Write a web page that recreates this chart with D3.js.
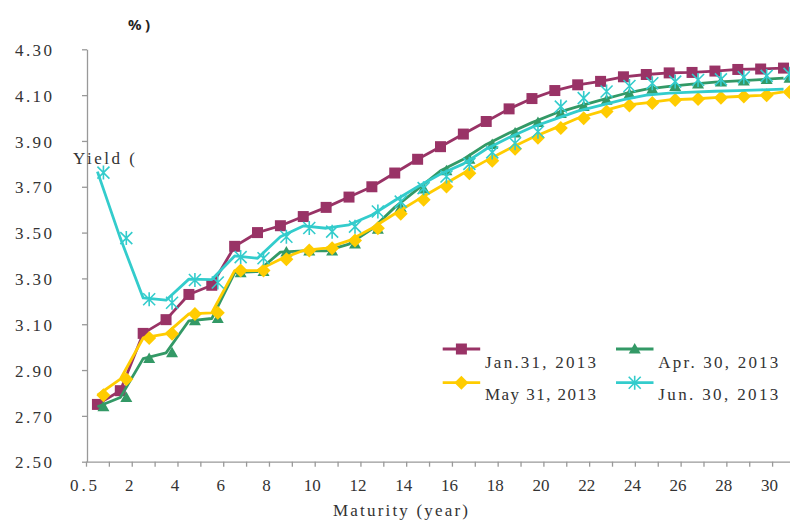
<!DOCTYPE html>
<html><head><meta charset="utf-8">
<script src="https://cdn.jsdelivr.net/npm/d3@7"></script>
<style>body{margin:0;background:#fff}svg{display:block}</style>
</head><body>
<svg id="chart" width="790" height="520"></svg>
<script>
// ---- data ----
const maturities = ["0.5","1","2","3","4","5","6","7","8","9","10","11","12","13","14","15","16","17","18","19","20","21","22","23","24","25","26","27","28","29","30"];
const yTickValues = [2.5,2.7,2.9,3.1,3.3,3.5,3.7,3.9,4.1,4.3];
const seriesNames = ["Jan.31, 2013","Apr. 30, 2013","May 31, 2013","Jun. 30, 2013"];
const jan = [2.75,2.81,3.06,3.12,3.23,3.27,3.44,3.50,3.53,3.57,3.61,3.655,3.70,3.76,3.82,3.875,3.93,3.985,4.04,4.085,4.12,4.145,4.16,4.18,4.19,4.197,4.199,4.205,4.212,4.214,4.218];
const apr = [2.74,2.78,2.95,2.975,3.115,3.125,3.325,3.33,3.415,3.42,3.42,3.45,3.515,3.61,3.69,3.77,3.82,3.885,3.935,3.98,4.02,4.05,4.078,4.105,4.126,4.138,4.148,4.157,4.162,4.168,4.174];
const may = [2.79,2.86,3.04,3.058,3.145,3.15,3.334,3.334,3.384,3.422,3.432,3.465,3.519,3.582,3.643,3.701,3.759,3.814,3.866,3.914,3.956,3.999,4.028,4.055,4.066,4.079,4.083,4.089,4.094,4.099,4.114];
const junCurve = [3.766,3.476,3.215,3.205,3.297,3.295,3.398,3.388,3.482,3.529,3.519,3.534,3.577,3.64,3.70,3.756,3.80,3.865,3.915,3.96,3.995,4.03,4.055,4.08,4.10,4.109,4.113,4.117,4.12,4.123,4.126];
const junMarks = [3.762,3.476,3.209,3.194,3.293,3.282,3.393,3.388,3.482,3.52,3.504,3.526,3.592,3.635,3.694,3.745,3.80,3.85,3.89,3.94,4.05,4.087,4.116,4.14,4.152,4.159,4.166,4.169,4.178,4.184,4.193];

// ---- styles ----
const colors = ["#993366","#339966","#FFCC00","#33CCCC"];
const symbols = ["square","triangle","diamond","star"];
const markerShift = [0,6,6,6];
const series = [
  {name: seriesNames[0], line: jan, marks: jan},
  {name: seriesNames[1], line: apr, marks: apr},
  {name: seriesNames[2], line: may, marks: may},
  {name: seriesNames[3], line: junCurve, marks: junMarks}
];

const svg = d3.select("#chart");
const textColor = "#333";
const axisColor = "#999";
const serif = "'Liberation Serif','DejaVu Serif',serif";
const fs = 17;

const x = d3.scaleLinear().domain([0, maturities.length]).range([86, 86 + maturities.length * 22.87]);
const y = d3.scaleLinear().domain([2.5, 4.3]).range([461.7, 49.3]);

// y axis
const yAxis = svg.append("g").attr("transform","translate(87,0)")
  .call(d3.axisLeft(y).tickValues(yTickValues).tickFormat(d3.format(".2f")).tickSize(5).tickSizeOuter(0).tickPadding(30));
yAxis.selectAll("path,line").attr("stroke", axisColor).attr("stroke-width", 1.3);
yAxis.selectAll("text").attr("fill", textColor).attr("font-family", serif).attr("font-size", fs)
  .attr("textLength", 37).attr("lengthAdjust","spacing").attr("dy","0.36em");

// x axis
const xAxis = svg.append("g").attr("transform",`translate(0,${y(2.5)})`)
  .call(d3.axisBottom(x).tickValues(d3.range(0, maturities.length + 1))
    .tickFormat(i => (i % 2 === 0 && i < maturities.length) ? maturities[i] : "")
    .tickSize(5).tickSizeOuter(0));
xAxis.selectAll("path,line").attr("stroke", axisColor).attr("stroke-width", 1.3);
xAxis.selectAll("text").attr("fill", textColor).attr("font-family", serif).attr("font-size", fs)
  .attr("y", 29.5).attr("dy", null).attr("dx", -3)
  .each(function(){ const t = d3.select(this).text(); if (t.indexOf(".") >= 0) d3.select(this).attr("textLength", 27).attr("lengthAdjust","spacing"); });

// axis titles
svg.append("text").attr("x", 73).attr("y", 163.5).attr("font-family", serif).attr("font-size", fs)
  .attr("fill", textColor).attr("textLength", 62).attr("lengthAdjust","spacing").text("Yield (");
svg.append("text").attr("x", 128).attr("y", 30).attr("font-family", "'Noto Sans','DejaVu Sans',sans-serif").attr("font-size", 15)
  .attr("font-weight","bold").attr("fill", "#222").attr("textLength", 22).attr("lengthAdjust","spacing").text("%)");
svg.append("text").attr("x", 333).attr("y", 516).attr("font-family", serif).attr("font-size", fs)
  .attr("fill", textColor).attr("textLength", 135).attr("lengthAdjust","spacing").text("Maturity (year)");

// marker paths
function markerPath(type) {
  if (type === "square") return "M-5.5,-5.5H5.5V5.5H-5.5Z";
  if (type === "diamond") return "M0,-7L7,0L0,7L-7,0Z";
  if (type === "triangle") return "M0,-6L6,4.5L-6,4.5Z";
  return "M0,-7V7M-6,-6L6,6M-6,6L6,-6";
}
function drawMarker(g, type, color, cx, cy) {
  const p = g.append("path").attr("d", markerPath(type)).attr("transform", `translate(${cx},${cy})`);
  if (type === "star") p.attr("fill","none").attr("stroke", color).attr("stroke-width", 1.6);
  else p.attr("fill", color).attr("stroke", "none");
}

const line = d3.line().x((d,i) => x(i + 0.5)).y(d => y(d));

series.forEach((s, k) => {
  const g = svg.append("g");
  g.append("path").datum(s.line).attr("d", line).attr("fill","none")
    .attr("stroke", colors[k]).attr("stroke-width", 2.8).attr("stroke-linejoin","round");
  s.marks.forEach((v, i) => drawMarker(g, symbols[k], colors[k], x(i + 0.5) + markerShift[k], y(v)));
});

// legend
const legendPos = [[442.7, 349, 485, 367.7, 111],[616, 349, 658.3, 367.7, 120],[442.7, 382.7, 485, 400, 111],[616, 382.7, 658.3, 400, 120]];
series.forEach((s, k) => {
  const [lx, ly, tx, ty, tw] = legendPos[k];
  const g = svg.append("g");
  g.append("line").attr("x1", lx).attr("x2", lx + 37.5).attr("y1", ly).attr("y2", ly)
    .attr("stroke", colors[k]).attr("stroke-width", 2.8);
  drawMarker(g, symbols[k], colors[k], lx + 18.7, ly);
  g.append("text").attr("x", tx).attr("y", ty).attr("font-family", serif).attr("font-size", fs)
    .attr("fill", textColor).attr("textLength", tw).attr("lengthAdjust","spacing").text(s.name);
});
</script>
</body></html>
